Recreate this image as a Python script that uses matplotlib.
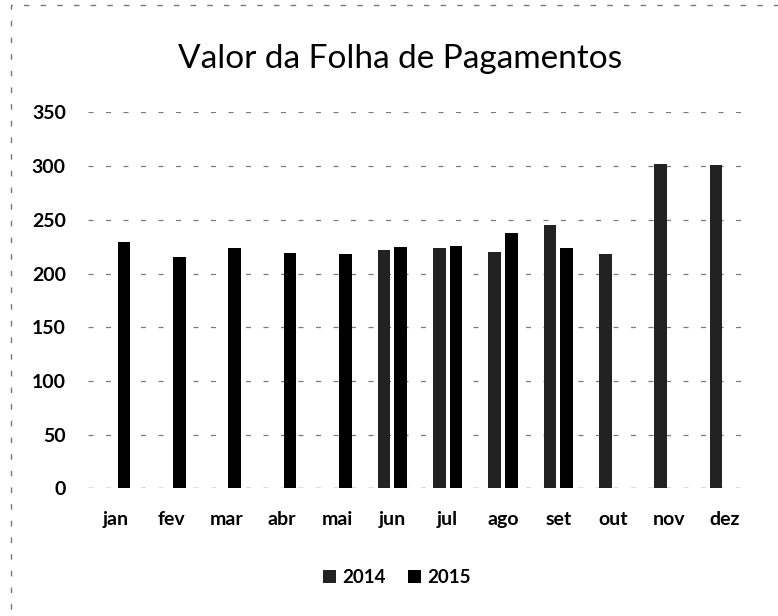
import numpy as np
import matplotlib
matplotlib.use('Agg')
import matplotlib.pyplot as plt
from matplotlib.patches import Rectangle

meses = ['jan', 'fev', 'mar', 'abr', 'mai', 'jun', 'jul', 'ago', 'set', 'out', 'nov', 'dez']
# 2014 only has values from jun onwards, 2015 until set
valores_2014 = [np.nan, np.nan, np.nan, np.nan, np.nan, 222, 224, 220, 245, 218, 302, 301]
valores_2015 = [229, 215, 224, 219, 218, 225, 226, 238, 224, np.nan, np.nan, np.nan]
series = ['2014', '2015']
y_ticks = [0, 50, 100, 150, 200, 250, 300, 350]

plt.rcParams['font.family'] = ['Lato', 'DejaVu Sans']

fig = plt.figure(figsize=(7.78, 6.16), dpi=100)
ax = fig.add_axes([0.1131, 0.2073, 0.8535, 0.6102])

x = np.arange(len(meses))
w = 0.23
ax.bar(x - 0.15, valores_2014, width=w, color='#222222', label=series[0], zorder=3)
ax.bar(x + 0.15, valores_2015, width=w, color='black', label=series[1], zorder=3)

ax.set_xlim(-0.5, len(meses) - 0.5)
ax.set_ylim(0, 350)
ax.set_yticks(y_ticks)
ax.set_xticks(x)
ax.set_xticklabels(meses)
grid_style = dict(color='#7a7a7a', linestyle=(0, (4, 10)), linewidth=0.9)
ax.yaxis.grid(True, zorder=0, **grid_style)
ax.axhline(0, zorder=1, **grid_style)
for s in ax.spines.values():
    s.set_visible(False)
ax.tick_params(axis='both', length=0, labelsize=14)
ax.tick_params(axis='y', pad=16)
ax.tick_params(axis='x', pad=16)
for lbl in ax.get_xticklabels() + ax.get_yticklabels():
    lbl.set_fontweight('bold')

fig.text(0.514, 0.905, 'Valor da Folha de Pagamentos', ha='center', va='center', fontsize=24)

leg = fig.legend(loc='center', bbox_to_anchor=(0.51, 0.063), ncol=2, frameon=False,
                 handlelength=0.7, handleheight=0.7, handletextpad=0.3, columnspacing=1.2,
                 prop={'size': 13.5, 'weight': 'bold'})

# dashed frame of the scanned chart area
fig.patches.append(Rectangle((0.014, -0.02), 1.0, 1.012, transform=fig.transFigure,
                             fill=False, edgecolor='#777777', linestyle=(0, (4, 8)), linewidth=1))

fig.savefig('out.png', dpi=100, facecolor='white')
